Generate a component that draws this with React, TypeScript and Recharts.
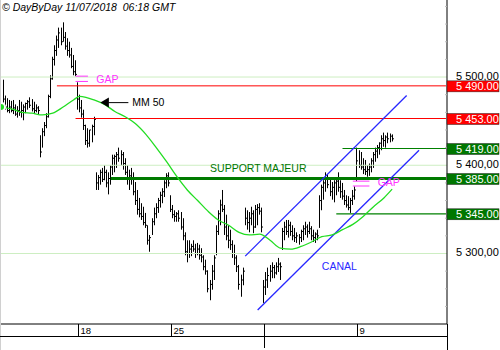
import React from 'react';
import {
  ComposedChart,
  Bar,
  Line,
  XAxis,
  YAxis,
  ReferenceLine,
  ReferenceDot,
} from 'recharts';

// hourly bars, 9 per session, from the last bar of 12/06 to the close of 10/07
const highs = [
  5480, 5497, 5479, 5476, 5474, 5473, 5474, 5469, 5467, 5474,
  5472, 5469, 5471, 5474, 5477, 5475, 5472, 5469, 5467, 5434,
  5442, 5449, 5459, 5480, 5502, 5523, 5536, 5547, 5556, 5556,
  5562, 5551, 5544, 5540, 5533, 5525, 5519, 5494, 5480, 5474,
  5463, 5446, 5442, 5440, 5446, 5455, 5392, 5389, 5395, 5397,
  5400, 5395, 5392, 5400, 5412, 5412, 5415, 5420, 5417, 5415,
  5408, 5400, 5395, 5397, 5392, 5381, 5372, 5363, 5357, 5353,
  5346, 5332, 5321, 5340, 5352, 5357, 5363, 5370, 5374, 5383,
  5391, 5392, 5366, 5355, 5349, 5347, 5349, 5347, 5340, 5324,
  5315, 5315, 5311, 5315, 5311, 5312, 5310, 5306, 5298, 5293,
  5281, 5270, 5287, 5298, 5332, 5349, 5361, 5372, 5355, 5344,
  5332, 5327, 5315, 5310, 5298, 5287, 5276, 5284, 5352, 5349,
  5347, 5353, 5349, 5355, 5356, 5357, 5352, 5270, 5279, 5284,
  5287, 5290, 5287, 5290, 5295, 5290, 5329, 5336, 5338, 5338,
  5336, 5332, 5329, 5324, 5322, 5327, 5332, 5336, 5333, 5336,
  5331, 5327, 5324, 5327, 5366, 5378, 5383, 5392, 5390, 5386,
  5381, 5383, 5386, 5392, 5383, 5380, 5372, 5366, 5365, 5363,
  5372, 5376, 5420, 5417, 5415, 5408, 5406, 5400, 5402, 5408,
  5415, 5420, 5423, 5426, 5434, 5437, 5434, 5437, 5436, 5435,
];

const lows = [
  5465, 5471, 5463, 5460, 5459, 5460, 5458, 5456, 5454, 5456,
  5454, 5451, 5459, 5463, 5465, 5461, 5458, 5460, 5458, 5409,
  5420, 5433, 5442, 5454, 5476, 5497, 5513, 5524, 5533, 5536,
  5540, 5531, 5524, 5522, 5510, 5502, 5501, 5463, 5460, 5454,
  5440, 5423, 5420, 5421, 5426, 5434, 5372, 5372, 5378, 5381,
  5383, 5375, 5367, 5378, 5389, 5392, 5397, 5404, 5400, 5395,
  5389, 5378, 5372, 5378, 5366, 5355, 5344, 5341, 5338, 5332,
  5329, 5310, 5302, 5321, 5332, 5340, 5346, 5352, 5357, 5364,
  5374, 5376, 5347, 5340, 5336, 5336, 5336, 5327, 5315, 5298,
  5290, 5295, 5297, 5302, 5295, 5298, 5293, 5290, 5281, 5276,
  5256, 5247, 5259, 5270, 5298, 5321, 5332, 5347, 5321, 5315,
  5306, 5304, 5295, 5287, 5279, 5259, 5251, 5264, 5332, 5327,
  5324, 5332, 5323, 5329, 5332, 5344, 5324, 5244, 5253, 5261,
  5268, 5272, 5272, 5276, 5279, 5270, 5304, 5315, 5321, 5318,
  5320, 5315, 5313, 5312, 5310, 5313, 5315, 5321, 5318, 5322,
  5315, 5313, 5312, 5315, 5329, 5349, 5361, 5370, 5374, 5365,
  5361, 5358, 5366, 5370, 5363, 5361, 5355, 5352, 5349, 5346,
  5355, 5361, 5382, 5397, 5395, 5390, 5389, 5387, 5388, 5392,
  5397, 5404, 5408, 5412, 5417, 5421, 5420, 5425, 5426, 5427,
];

const closes = [
  5470, 5475, 5466, 5462, 5466, 5462, 5465, 5458, 5462, 5460,
  5462, 5466, 5470, 5472, 5468, 5464, 5462, 5465, 5462, 5415,
  5438, 5445, 5455, 5478, 5498, 5520, 5530, 5542, 5550, 5540,
  5545, 5535, 5530, 5525, 5512, 5506, 5503, 5475, 5465, 5458,
  5445, 5428, 5425, 5440, 5444, 5452, 5380, 5386, 5392, 5384,
  5392, 5380, 5385, 5398, 5408, 5410, 5412, 5408, 5412, 5402,
  5392, 5385, 5388, 5385, 5370, 5360, 5350, 5345, 5342, 5335,
  5332, 5315, 5318, 5336, 5345, 5352, 5360, 5366, 5370, 5380,
  5388, 5380, 5350, 5344, 5342, 5345, 5340, 5330, 5320, 5302,
  5300, 5305, 5308, 5305, 5300, 5305, 5298, 5296, 5285, 5280,
  5260, 5265, 5280, 5295, 5325, 5345, 5355, 5350, 5330, 5320,
  5315, 5310, 5300, 5295, 5285, 5265, 5270, 5280, 5340, 5335,
  5340, 5345, 5330, 5350, 5352, 5348, 5330, 5262, 5270, 5275,
  5280, 5284, 5278, 5285, 5288, 5285, 5325, 5330, 5325, 5332,
  5325, 5320, 5318, 5320, 5318, 5325, 5328, 5330, 5325, 5328,
  5320, 5318, 5322, 5320, 5360, 5375, 5380, 5385, 5378, 5370,
  5375, 5380, 5382, 5375, 5370, 5365, 5360, 5355, 5352, 5360,
  5365, 5372, 5405, 5400, 5398, 5395, 5393, 5395, 5398, 5405,
  5412, 5416, 5420, 5425, 5430, 5428, 5432, 5430, 5433, 5430,
];

// MM 50, read every few bars: [bar index, value]
const ma50: [number, number][] = [
  [0, 5466], [5, 5464], [10, 5460], [15, 5459], [20, 5457], [25, 5459],
  [30, 5466], [35, 5474], [38, 5478], [41, 5477], [45, 5474], [50, 5469],
  [55, 5461], [60, 5455], [65, 5447], [70, 5435], [75, 5420], [80, 5404],
  [85, 5387], [90, 5372], [95, 5360], [100, 5348], [105, 5338], [110, 5332],
  [115, 5324], [120, 5321], [125, 5322], [130, 5315], [135, 5306], [140, 5305],
  [145, 5308], [150, 5313], [155, 5319], [160, 5321], [165, 5327], [170, 5333],
  [175, 5342], [180, 5353], [185, 5363], [189, 5373],
];

const SLOTS = 216; // bars plus empty space on the right
const dayTicks = [37, 82, 127, 172];
const dayLabels = ['18', '25', '', '9'];
const monthStart = 127;

const gridLevels = [5300, 5400, 5500];
const levels: { value: number; from: number; color: string; width: number }[] = [
  { value: 5490, from: 27, color: '#ff0000', width: 1 },
  { value: 5453, from: 36, color: '#ff0000', width: 1 },
  { value: 5419, from: 165, color: '#008000', width: 1.2 },
  { value: 5385, from: 53, color: '#007a00', width: 3 },
  { value: 5345, from: 162, color: '#008000', width: 1.2 },
];
const minorTicks = [5240, 5260, 5280, 5320, 5340, 5360, 5380, 5420, 5440, 5460, 5480, 5520, 5540, 5560, 5580];

// channel: [start index, start price, end index, end price]
const channel: [number, number, number, number][] = [
  [118, 5297, 196, 5479],
  [124, 5236, 202, 5417],
];
// gaps: [from index, to index, top, bottom]
const gaps: [number, number, number, number][] = [
  [36, 42, 5501, 5495],
  [170, 178, 5382, 5376.5],
];

const GAP_COLOR = '#ff33ff';
const FONT = '"Liberation Sans", Arial, sans-serif';

const maByIndex = new Map(ma50);
const data = Array.from({ length: SLOTS }, (_, i) => ({
  i,
  high: highs[i],
  low: lows[i],
  close: closes[i],
  ma: maByIndex.has(i) ? maByIndex.get(i) : null,
}));

const fmtPrice = (v: number, sep: string) =>
  `${Math.floor(v / 1000)} ${String(v % 1000).padStart(3, '0')}${sep}00`;

const HlcBar = (props: any) => {
  const { x, y, width, height, payload } = props;
  if (payload == null || payload.high == null || !isFinite(y)) return <g />;
  const px = Math.floor(x + width / 2) + 0.5;
  const range = payload.high - payload.low || 1;
  const cy = y + ((payload.high - payload.close) / range) * height;
  return (
    <g stroke="#000" strokeWidth={1}>
      <line x1={px} x2={px} y1={y} y2={y + height} />
      <line x1={px} x2={px + 1.5} y1={cy} y2={cy} />
    </g>
  );
};

const levelColor: Record<number, string> = {};
levels.forEach((l) => (levelColor[l.value] = l.color === '#ff0000' ? '#ff0000' : '#007700'));

const PriceTick = (props: any) => {
  const { x, y, payload } = props;
  const v = payload.value;
  if (levelColor[v]) {
    return (
      <g>
        <rect x={x} y={y - 5} width={52} height={11} fill={levelColor[v]} stroke="#222" strokeWidth={0.5} />
        <text x={x + 9} y={y + 4.5} fill="#fff" fontSize={11} fontFamily={FONT}>
          {fmtPrice(v, '.')}
        </text>
      </g>
    );
  }
  if (v % 100 === 0) {
    return (
      <text x={x + 9} y={y + 2.5} fill="#000" fontSize={11} fontFamily={FONT}>
        {fmtPrice(v, ',')}
      </text>
    );
  }
  return <line x1={x - 2} x2={x} y1={y} y2={y} stroke="#bbbbbb" />;
};

const DayTick = (props: any) => {
  const { x, y, payload } = props;
  const k = dayTicks.indexOf(payload.value);
  const px = Math.round(x) + 0.5;
  return (
    <g>
      <line x1={px} x2={px} y1={y} y2={y + (payload.value === monthStart ? 24 : 12)} stroke="#000" />
      <text x={px + 2} y={y + 9.5} fontSize={9.5} fontFamily={FONT} fill="#000">
        {dayLabels[k]}
      </text>
    </g>
  );
};

const textAt = (label: string, color: string, size = 10) => (p: any) => (
  <text x={p.cx} y={p.cy + size * 0.36} fill={color} fontSize={size} fontFamily={FONT}>
    {label}
  </text>
);

const Arrow = (p: any) => (
  <g>
    <polygon points={`${p.cx},${p.cy} ${p.cx + 8.5},${p.cy - 5} ${p.cx + 8.5},${p.cy + 5}`} fill="#000" />
    <line x1={p.cx + 8} x2={p.cx + 28} y1={p.cy} y2={p.cy} stroke="#000" />
    <text x={p.cx + 32} y={p.cy + 3.8} fontSize={10.5} fontFamily={FONT} fill="#000">
      MM 50
    </text>
  </g>
);

export default function App() {
  return (
    <div style={{ position: 'absolute', left: 0, top: 0, width: 500, height: 350, background: '#fff' }}>
      <ComposedChart
        width={500}
        height={350}
        data={data}
        margin={{ top: 0, right: 0, bottom: 0, left: 0 }}
        barCategoryGap={0}
      >
        <XAxis
          dataKey="i"
          type="category"
          height={26}
          ticks={dayTicks}
          interval={0}
          tick={<DayTick />}
          tickLine={false}
          tickSize={0}
          tickMargin={0}
          axisLine={{ stroke: '#000' }}
        />
        <YAxis
          orientation="right"
          type="number"
          width={53}
          domain={[5220.1, 5587.3]}
          allowDataOverflow
          ticks={[...minorTicks, ...gridLevels, ...levels.map((l) => l.value)]}
          interval={0}
          tick={<PriceTick />}
          tickLine={false}
          tickSize={0}
          tickMargin={0}
          axisLine={{ stroke: '#000' }}
        />
        {gridLevels.map((v) => (
          <ReferenceLine key={v} y={v} stroke="#cdeec2" strokeWidth={1} />
        ))}
        {levels.map((l) => (
          <ReferenceLine
            key={l.value}
            segment={[{ x: l.from, y: l.value }, { x: SLOTS - 1, y: l.value }]}
            stroke={l.color}
            strokeWidth={l.width}
          />
        ))}
        {channel.map(([a, pa, b, pb], k) => (
          <ReferenceLine key={`c${k}`} segment={[{ x: a, y: pa }, { x: b, y: pb }]} stroke="#2828ff" strokeWidth={1.3} />
        ))}
        {gaps.map(([a, b, top, bottom], k) => (
          <React.Fragment key={`g${k}`}>
            <ReferenceLine segment={[{ x: a, y: top }, { x: b, y: top }]} stroke={GAP_COLOR} strokeWidth={1} />
            <ReferenceLine segment={[{ x: a, y: bottom }, { x: b, y: bottom }]} stroke={GAP_COLOR} strokeWidth={1} />
          </React.Fragment>
        ))}
        <Bar
          dataKey={(d: any) => (d.high == null ? null : [d.low, d.high])}
          shape={<HlcBar />}
          isAnimationActive={false}
        />
        <Line
          dataKey="ma"
          type="monotone"
          stroke="#22dd22"
          strokeWidth={1.3}
          dot={false}
          connectNulls
          isAnimationActive={false}
        />
        <ReferenceDot x={46} y={5498} r={0} shape={textAt('GAP', GAP_COLOR, 10.5)} />
        <ReferenceDot x={182} y={5381} r={0} shape={textAt('GAP', GAP_COLOR, 10.5)} />
        <ReferenceDot x={48} y={5471} r={0} shape={Arrow} />
        <ReferenceDot x={101} y={5397} r={0} shape={textAt('SUPPORT MAJEUR', '#007700', 10.5)} />
        <ReferenceDot x={155} y={5286} r={0} shape={textAt('CANAL', '#2a2aff', 10.5)} />
      </ComposedChart>
      <svg width={500} height={350} style={{ position: 'absolute', left: 0, top: 0, pointerEvents: 'none' }}>
        <line x1={0.5} x2={0.5} y1={0} y2={350} stroke="#d0d0d0" />
        <line x1={0} x2={447} y1={336.5} y2={336.5} stroke="#000" />
        <line x1={447.5} x2={447.5} y1={324} y2={350} stroke="#000" />
        <text x={2} y={11} fontSize={10.5} fontStyle="italic" fontFamily={FONT} fill="#000" style={{ whiteSpace: 'pre' }}>
          {'© DayByDay 11/07/2018  06:18 GMT'}
        </text>
      </svg>
    </div>
  );
}
